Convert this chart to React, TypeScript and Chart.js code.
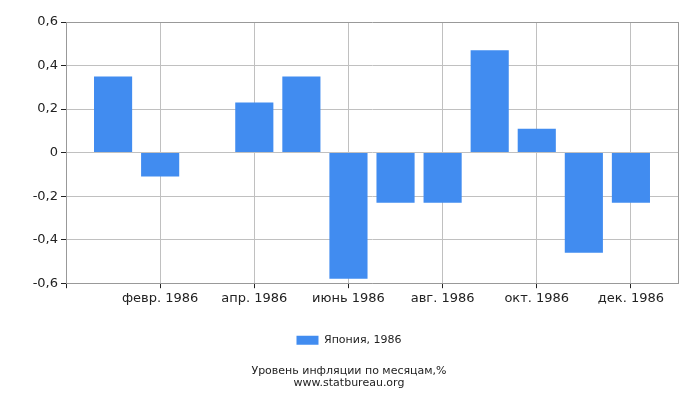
import React, { useEffect, useRef } from "react";
import Chart from "chart.js/auto";

// edge slots ("") pad the axis half a month on each side, like the original
const monthLabels = [
  "",
  "янв. 1986",
  "февр. 1986",
  "март 1986",
  "апр. 1986",
  "май 1986",
  "июнь 1986",
  "июль 1986",
  "авг. 1986",
  "сент. 1986",
  "окт. 1986",
  "нояб. 1986",
  "дек. 1986",
  "",
];
const inflation = [
  null, 0.35, -0.11, 0, 0.23, 0.35, -0.58, -0.23, -0.23, 0.47, 0.11, -0.46, -0.23, null,
];
const seriesName = "Япония, 1986";
const titleLines = ["Уровень инфляции по месяцам,%", "www.statbureau.org"];

const FONT = "'DejaVu Sans', sans-serif";

const App: React.FC = () => {
  const canvasRef = useRef<HTMLCanvasElement | null>(null);

  useEffect(() => {
    document.body.style.margin = "0";
    if (!canvasRef.current) return;
    const ctx = canvasRef.current.getContext("2d");
    if (!ctx) return;

    const last = monthLabels.length - 1;

    const chart = new Chart(ctx, {
      type: "bar",
      data: {
        labels: monthLabels,
        datasets: [
          {
            label: seriesName,
            data: inflation,
            backgroundColor: "#418cf0",
            borderWidth: 0,
            barPercentage: 0.9,
            categoryPercentage: 0.9,
          },
        ],
      },
      options: {
        animation: false,
        responsive: false,
        devicePixelRatio: 1,
        layout: { padding: { top: 22, right: 22, left: 20, bottom: 11 } },
        scales: {
          x: {
            offset: false,
            border: { color: "#999", width: 1 },
            grid: {
              offset: false,
              tickLength: 5,
              color: (c) => {
                const i = c.index;
                if (i === last) return "#999";
                return i > 0 && i % 2 === 0 ? "#c0c0c0" : "rgba(0,0,0,0)";
              },
              tickColor: (c) => {
                const i = c.index;
                return i % 2 === 0 && i < last ? "#222" : "rgba(0,0,0,0)";
              },
            },
            ticks: {
              autoSkip: false,
              maxRotation: 0,
              color: "#222",
              font: { family: FONT, size: 13 },
              padding: 3,
              callback: (_v, i) => (i > 0 && i % 2 === 0 && i < last ? monthLabels[i] : ""),
            },
          },
          y: {
            min: -0.6,
            max: 0.6,
            afterFit: (scale) => {
              scale.width = 46;
            },
            border: { color: "#999", width: 1 },
            grid: {
              tickLength: 5,
              color: (c) => (c.index === 6 ? "#999" : "#c0c0c0"),
              tickColor: "#222",
            },
            ticks: {
              stepSize: 0.2,
              color: "#222",
              font: { family: FONT, size: 13 },
              padding: 3,
              callback: (v) => {
                const n = Math.round(Number(v) * 10) / 10;
                return n === 0 ? "0" : n.toFixed(1).replace(".", ",");
              },
            },
          },
        },
        plugins: {
          legend: {
            display: true,
            position: "bottom",
            labels: {
              boxWidth: 22,
              boxHeight: 9,
              color: "#222",
              font: { family: FONT, size: 11 },
              padding: 25,
            },
          },
          title: {
            display: true,
            position: "bottom",
            text: titleLines,
            color: "#222",
            font: { family: FONT, size: 11, weight: "normal", lineHeight: 1.1 },
            padding: { top: 9, bottom: 0 },
          },
          tooltip: { enabled: false },
        },
      },
    });

    return () => {
      chart.destroy();
    };
  }, []);

  return (
    <div style={{ width: 700, height: 400 }}>
      <canvas ref={canvasRef} width={700} height={400}></canvas>
    </div>
  );
};

export default App;
